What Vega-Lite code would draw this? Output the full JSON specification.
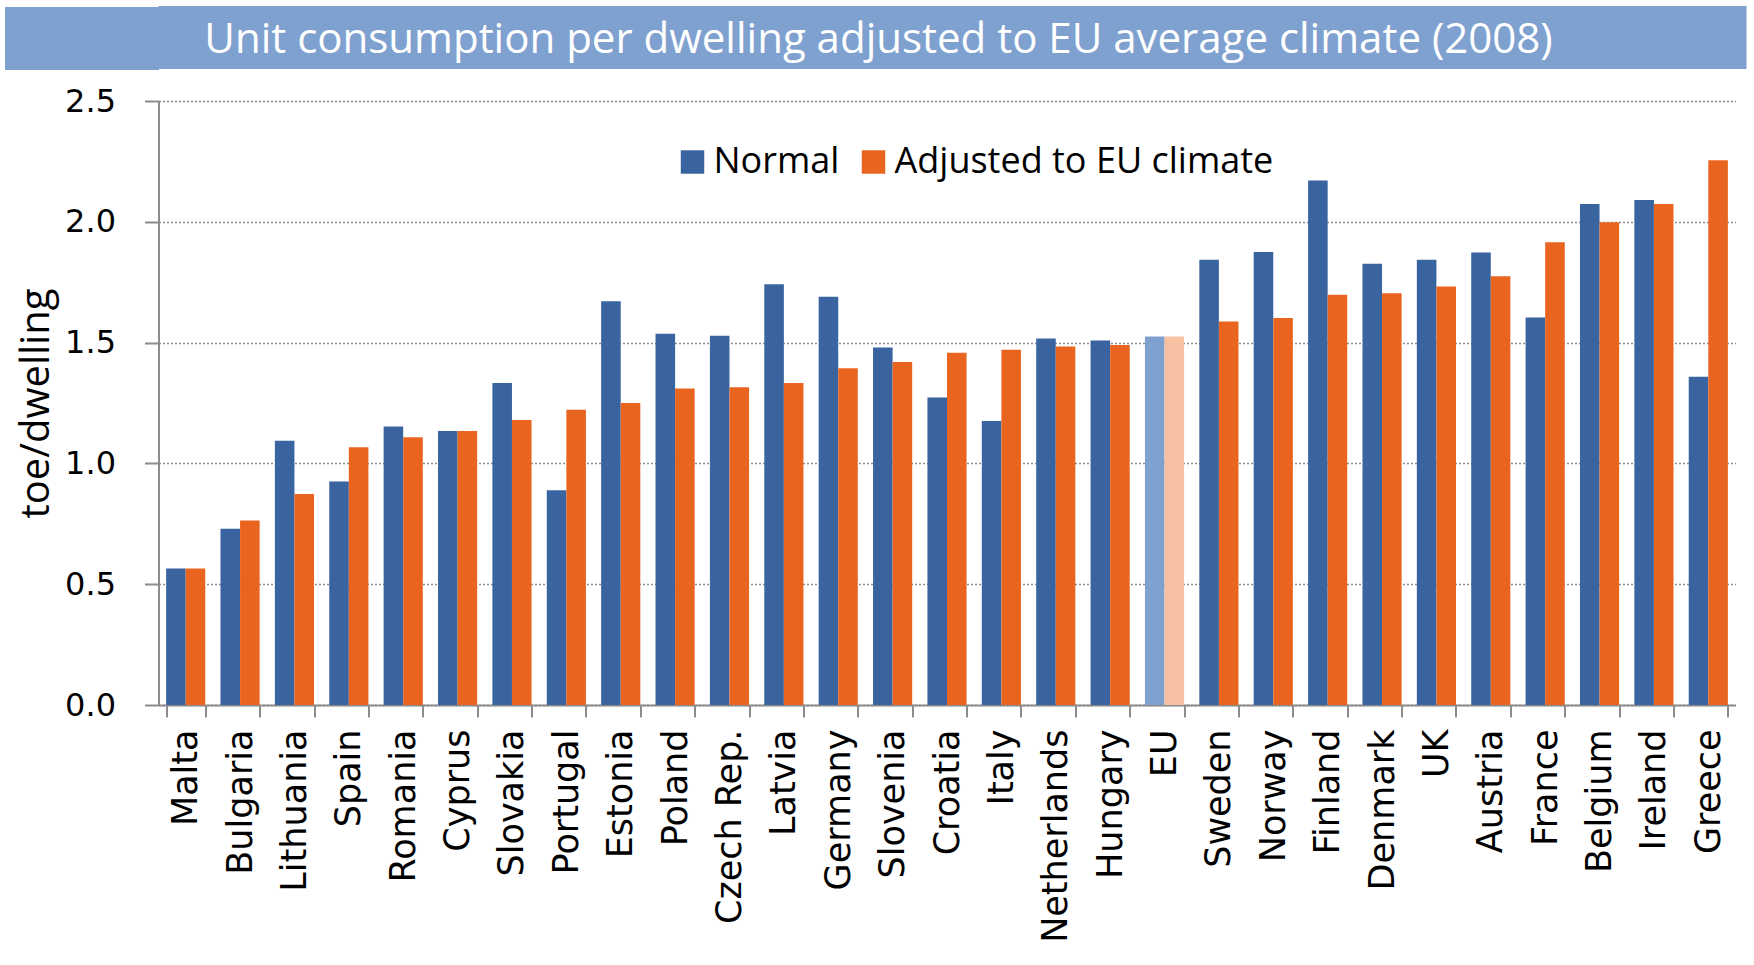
{
  "$schema": "https://vega.github.io/schema/vega-lite/v6.json",
  "background": "white",
  "padding": {"left": -27.5, "top": 6, "right": 6, "bottom": 0},
  "spacing": 15,
  "config": {"view": {"stroke": null}},
  "resolve": {"legend": {"color": "independent"}},
  "vconcat": [
    {
      "width": 1588,
      "height": 63,
      "view": {"fill": "#7FA1D0", "stroke": null},
      "data": {"values": [{"label": "Unit consumption per dwelling adjusted to EU average climate (2008)"}]},
      "mark": {"type": "text", "font": "Open Sans", "fontSize": 42, "color": "white", "align": "center", "baseline": "middle", "dy": 2, "dx": -74},
      "encoding": {
        "text": {"field": "label", "type": "nominal"},
        "y": {
          "datum": 0.5, "type": "quantitative",
          "scale": {"domain": [0, 1], "nice": false, "zero": false},
          "axis": {"values": [0.5], "tickSize": 154, "tickWidth": 63, "tickColor": "#7FA1D0", "tickCap": "butt",
                   "labels": false, "domain": false, "grid": false, "title": null, "minExtent": 0}
        }
      }
    },
    {
      "width": 1577,
      "height": 604,
      "data": {"values": [
        {"country": "Malta", "series": "Normal", "value": 0.565},
        {"country": "Malta", "series": "Adjusted to EU climate", "value": 0.565},
        {"country": "Bulgaria", "series": "Normal", "value": 0.73},
        {"country": "Bulgaria", "series": "Adjusted to EU climate", "value": 0.764},
        {"country": "Lithuania", "series": "Normal", "value": 1.094},
        {"country": "Lithuania", "series": "Adjusted to EU climate", "value": 0.873},
        {"country": "Spain", "series": "Normal", "value": 0.925},
        {"country": "Spain", "series": "Adjusted to EU climate", "value": 1.067},
        {"country": "Romania", "series": "Normal", "value": 1.153},
        {"country": "Romania", "series": "Adjusted to EU climate", "value": 1.108},
        {"country": "Cyprus", "series": "Normal", "value": 1.134},
        {"country": "Cyprus", "series": "Adjusted to EU climate", "value": 1.134},
        {"country": "Slovakia", "series": "Normal", "value": 1.333},
        {"country": "Slovakia", "series": "Adjusted to EU climate", "value": 1.18},
        {"country": "Portugal", "series": "Normal", "value": 0.889},
        {"country": "Portugal", "series": "Adjusted to EU climate", "value": 1.222},
        {"country": "Estonia", "series": "Normal", "value": 1.671},
        {"country": "Estonia", "series": "Adjusted to EU climate", "value": 1.25},
        {"country": "Poland", "series": "Normal", "value": 1.537},
        {"country": "Poland", "series": "Adjusted to EU climate", "value": 1.31},
        {"country": "Czech Rep.", "series": "Normal", "value": 1.528},
        {"country": "Czech Rep.", "series": "Adjusted to EU climate", "value": 1.315},
        {"country": "Latvia", "series": "Normal", "value": 1.741},
        {"country": "Latvia", "series": "Adjusted to EU climate", "value": 1.333},
        {"country": "Germany", "series": "Normal", "value": 1.69},
        {"country": "Germany", "series": "Adjusted to EU climate", "value": 1.394},
        {"country": "Slovenia", "series": "Normal", "value": 1.48},
        {"country": "Slovenia", "series": "Adjusted to EU climate", "value": 1.42},
        {"country": "Croatia", "series": "Normal", "value": 1.273},
        {"country": "Croatia", "series": "Adjusted to EU climate", "value": 1.458},
        {"country": "Italy", "series": "Normal", "value": 1.176},
        {"country": "Italy", "series": "Adjusted to EU climate", "value": 1.47},
        {"country": "Netherlands", "series": "Normal", "value": 1.517},
        {"country": "Netherlands", "series": "Adjusted to EU climate", "value": 1.484},
        {"country": "Hungary", "series": "Normal", "value": 1.509},
        {"country": "Hungary", "series": "Adjusted to EU climate", "value": 1.49},
        {"country": "EU", "series": "Normal", "value": 1.525},
        {"country": "EU", "series": "Adjusted to EU climate", "value": 1.525},
        {"country": "Sweden", "series": "Normal", "value": 1.843},
        {"country": "Sweden", "series": "Adjusted to EU climate", "value": 1.587},
        {"country": "Norway", "series": "Normal", "value": 1.875},
        {"country": "Norway", "series": "Adjusted to EU climate", "value": 1.602},
        {"country": "Finland", "series": "Normal", "value": 2.171},
        {"country": "Finland", "series": "Adjusted to EU climate", "value": 1.698},
        {"country": "Denmark", "series": "Normal", "value": 1.826},
        {"country": "Denmark", "series": "Adjusted to EU climate", "value": 1.704},
        {"country": "UK", "series": "Normal", "value": 1.843},
        {"country": "UK", "series": "Adjusted to EU climate", "value": 1.732},
        {"country": "Austria", "series": "Normal", "value": 1.873},
        {"country": "Austria", "series": "Adjusted to EU climate", "value": 1.775},
        {"country": "France", "series": "Normal", "value": 1.604},
        {"country": "France", "series": "Adjusted to EU climate", "value": 1.915},
        {"country": "Belgium", "series": "Normal", "value": 2.074},
        {"country": "Belgium", "series": "Adjusted to EU climate", "value": 1.998},
        {"country": "Ireland", "series": "Normal", "value": 2.09},
        {"country": "Ireland", "series": "Adjusted to EU climate", "value": 2.074},
        {"country": "Greece", "series": "Normal", "value": 1.359},
        {"country": "Greece", "series": "Adjusted to EU climate", "value": 2.255}
      ]},
      "mark": {"type": "bar"},
      "encoding": {
        "x": {
          "field": "country", "type": "nominal", "sort": null,
          "scale": {"paddingInner": 0.28, "paddingOuter": 0.14},
          "axis": {
            "title": null, "labelAngle": -90, "labelAlign": "right", "labelBaseline": "middle",
            "labelFont": "DejaVu Sans", "labelFontSize": 35, "labelColor": "black",
            "labelPadding": 12, "tickSize": 12, "tickBand": "extent", "labelLimit": 400,
            "tickColor": "#8c8c8c", "tickWidth": 2, "domainColor": "#8c8c8c", "domainWidth": 2,
            "labelOverlap": false
          }
        },
        "xOffset": {"field": "series", "type": "nominal", "sort": ["Normal", "Adjusted to EU climate"]},
        "y": {
          "field": "value", "type": "quantitative",
          "scale": {"domain": [0, 2.5], "nice": false},
          "axis": {
            "title": "toe/dwelling", "titleFont": "Open Sans", "titleFontSize": 40, "titleFontWeight": "normal",
            "titleColor": "black", "titlePadding": 8,
            "values": [0, 0.5, 1, 1.5, 2, 2.5], "format": ".1f",
            "labelFont": "DejaVu Sans", "labelFontSize": 32, "labelColor": "black", "labelPadding": 29,
            "tickSize": 14, "tickColor": "#8c8c8c", "tickWidth": 2,
            "domainColor": "#8c8c8c", "domainWidth": 2,
            "grid": true, "gridColor": "#8c8c8c", "gridDash": [2, 2], "gridWidth": 1.5
          }
        },
        "color": {
          "condition": [
            {"test": "datum.country === 'EU' && datum.series === 'Normal'", "value": "#7FA1D0"},
            {"test": "datum.country === 'EU' && datum.series !== 'Normal'", "value": "#F7C2A4"}
          ],
          "field": "series", "type": "nominal",
          "scale": {"domain": ["Normal", "Adjusted to EU climate"], "range": ["#3A64A0", "#E9651F"]},
          "legend": {
            "title": null, "orient": "none", "legendX": 516, "legendY": 43, "direction": "horizontal",
            "symbolType": "square", "symbolSize": 550, "symbolStrokeWidth": 0,
            "labelFont": "Open Sans", "labelFontSize": 36, "labelColor": "black", "labelOffset": 3,
            "columnPadding": 16, "padding": 0, "labelLimit": 600
          }
        }
      }
    }
  ]
}
